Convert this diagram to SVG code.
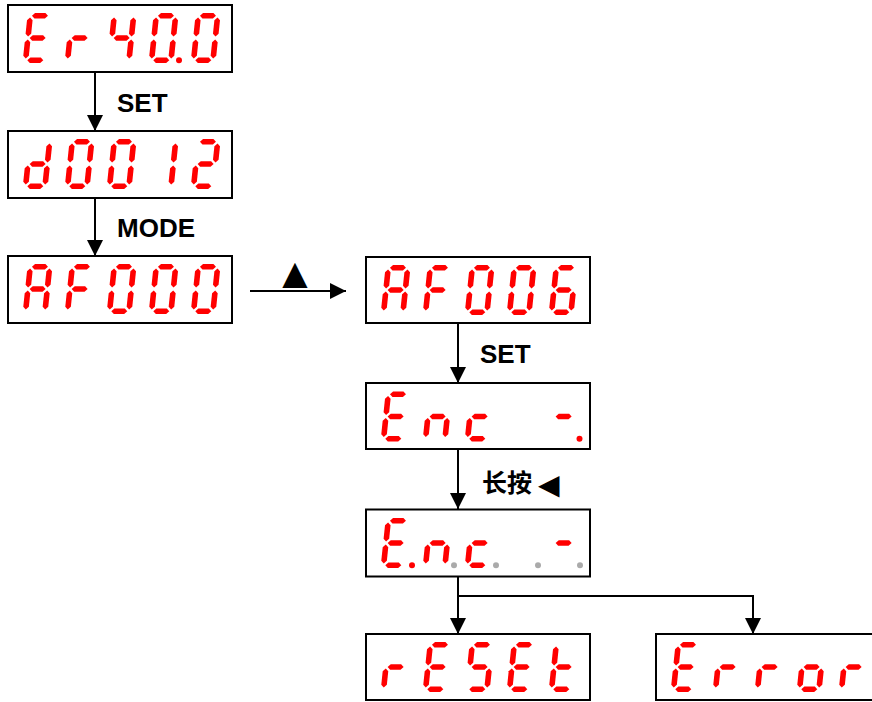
<svg xmlns="http://www.w3.org/2000/svg" width="872" height="702" viewBox="0 0 872 702">
<style>
.box{fill:#fff;stroke:#000;stroke-width:2}
.seg{fill:#ff0000}
.dp{fill:#ff0000}
.dpoff{fill:#aaaaaa}
.conn{fill:none;stroke:#000;stroke-width:2}
.lbl{font-family:"Liberation Sans",Arial,sans-serif;font-weight:bold;font-size:26px;fill:#000}
.cjk{font-family:"Noto Sans CJK SC","Noto Sans CJK JP",sans-serif;font-weight:bold;font-size:25px;fill:#000}
.sym{font-family:"DejaVu Sans",sans-serif;font-weight:normal;fill:#000}
</style>
<defs>
<marker id="ah" viewBox="0 0 16 16" refX="16" refY="8" markerWidth="16" markerHeight="16" markerUnits="userSpaceOnUse" orient="auto"><path d="M0,0 L16,8 L0,16 z" fill="#000"/></marker>
<polygon id="sa" class="seg" points="4.5,-47.2 7.3,-50 17.7,-50 20.5,-47.2 17.7,-44.4 7.3,-44.4"/>
<polygon id="sg" class="seg" points="4.5,-25 7.3,-27.8 17.7,-27.8 20.5,-25 17.7,-22.2 7.3,-22.2"/>
<polygon id="sd" class="seg" points="4.5,-2.8 7.3,-5.6 17.7,-5.6 20.5,-2.8 17.7,0 7.3,0"/>
<polygon id="sf" class="seg" points="2.8,-45.5 5.6,-42.7 5.6,-29.3 2.8,-26.5 0,-29.3 0,-42.7"/>
<polygon id="se" class="seg" points="2.8,-23.5 5.6,-20.7 5.6,-7.3 2.8,-4.5 0,-7.3 0,-20.7"/>
<polygon id="sb" class="seg" points="22.2,-45.5 25,-42.7 25,-29.3 22.2,-26.5 19.4,-29.3 19.4,-42.7"/>
<polygon id="sc" class="seg" points="22.2,-23.5 25,-20.7 25,-7.3 22.2,-4.5 19.4,-7.3 19.4,-20.7"/>
<g id="d0" transform="skewX(-6)"><use href="#sa"/><use href="#sb"/><use href="#sc"/><use href="#sd"/><use href="#se"/><use href="#sf"/></g>
<g id="d1" transform="skewX(-6)"><use href="#sb"/><use href="#sc"/></g>
<g id="d2" transform="skewX(-6)"><use href="#sa"/><use href="#sb"/><use href="#sg"/><use href="#se"/><use href="#sd"/></g>
<g id="d4" transform="skewX(-6)"><use href="#sf"/><use href="#sg"/><use href="#sb"/><use href="#sc"/></g>
<g id="d6" transform="skewX(-6)"><use href="#sa"/><use href="#sf"/><use href="#sg"/><use href="#se"/><use href="#sd"/><use href="#sc"/></g>
<g id="dA" transform="skewX(-6)"><use href="#sa"/><use href="#sb"/><use href="#sc"/><use href="#se"/><use href="#sf"/><use href="#sg"/></g>
<g id="dF" transform="skewX(-6)"><use href="#sa"/><use href="#se"/><use href="#sf"/><use href="#sg"/></g>
<g id="dE" transform="skewX(-6)"><use href="#sa"/><use href="#sd"/><use href="#se"/><use href="#sf"/><use href="#sg"/></g>
<g id="dr" transform="skewX(-6)"><use href="#se"/><use href="#sg"/></g>
<g id="dd" transform="skewX(-6)"><use href="#sb"/><use href="#sc"/><use href="#sd"/><use href="#se"/><use href="#sg"/></g>
<g id="dn" transform="skewX(-6)"><use href="#sc"/><use href="#se"/><use href="#sg"/></g>
<g id="dc" transform="skewX(-6)"><use href="#sd"/><use href="#se"/><use href="#sg"/></g>
<g id="dm" transform="skewX(-6)"><use href="#sg"/></g>
<g id="dS" transform="skewX(-6)"><use href="#sa"/><use href="#sf"/><use href="#sg"/><use href="#sc"/><use href="#sd"/></g>
<g id="dt" transform="skewX(-6)"><use href="#sd"/><use href="#se"/><use href="#sf"/><use href="#sg"/></g>
<g id="do" transform="skewX(-6)"><use href="#sc"/><use href="#sd"/><use href="#se"/><use href="#sg"/></g>
</defs>

<g id="node-er400">
<rect class="box" x="8" y="5" width="224" height="67"/>
<use href="#dE" x="22.5" y="63"/><use href="#dr" x="64.5" y="63"/><use href="#d4" x="106.5" y="63"/><use href="#d0" x="148.5" y="63"/><use href="#d0" x="190.5" y="63"/>
<circle class="dp" cx="179" cy="60.2" r="3"/>
</g>

<g id="node-d0012">
<rect class="box" x="8" y="131" width="224" height="67"/>
<use href="#dd" x="22.5" y="189"/><use href="#d0" x="64.5" y="189"/><use href="#d0" x="106.5" y="189"/><use href="#d1" x="148.5" y="189"/><use href="#d2" x="190.5" y="189"/>
</g>

<g id="node-af000">
<rect class="box" x="8" y="256" width="224" height="67"/>
<use href="#dA" x="22.5" y="314"/><use href="#dF" x="64.5" y="314"/><use href="#d0" x="106.5" y="314"/><use href="#d0" x="148.5" y="314"/><use href="#d0" x="190.5" y="314"/>
</g>

<g id="node-af006">
<rect class="box" x="366" y="257" width="224" height="66"/>
<use href="#dA" x="380.5" y="315"/><use href="#dF" x="422.5" y="315"/><use href="#d0" x="464.5" y="315"/><use href="#d0" x="506.5" y="315"/><use href="#d6" x="548.5" y="315"/>
</g>

<g id="node-enc1">
<rect class="box" x="366" y="383" width="224" height="66"/>
<use href="#dE" x="380.5" y="441.5"/><use href="#dn" x="422.5" y="441.5"/><use href="#dc" x="464.5" y="441.5"/><use href="#dm" x="548.5" y="441.5"/>
<circle class="dp" cx="579.5" cy="438.7" r="3"/>
</g>

<g id="node-enc2">
<rect class="box" x="366" y="509.5" width="224" height="67"/>
<use href="#dE" x="380.5" y="568"/><use href="#dn" x="422.5" y="568"/><use href="#dc" x="464.5" y="568"/><use href="#dm" x="548.5" y="568"/>
<circle class="dp" cx="412" cy="565.2" r="3"/>
<circle class="dpoff" cx="454" cy="565.2" r="3"/>
<circle class="dpoff" cx="496" cy="565.2" r="3"/>
<circle class="dpoff" cx="538" cy="565.2" r="3"/>
<circle class="dpoff" cx="580" cy="565.2" r="3"/>
</g>

<g id="node-reset">
<rect class="box" x="366" y="634" width="224" height="66"/>
<use href="#dr" x="380.5" y="692"/><use href="#dE" x="422.5" y="692"/><use href="#dS" x="464.5" y="692"/><use href="#dE" x="506.5" y="692"/><use href="#dt" x="548.5" y="692"/>
</g>

<g id="node-error">
<rect class="box" x="656" y="634" width="224" height="66"/>
<use href="#dE" x="670.5" y="692"/><use href="#dr" x="712.5" y="692"/><use href="#dr" x="754.5" y="692"/><use href="#do" x="796.5" y="692"/><use href="#dr" x="838.5" y="692"/>
</g>

<g id="connectors">
<line class="conn" x1="95" y1="72" x2="95" y2="131" marker-end="url(#ah)"/>
<line class="conn" x1="95" y1="198" x2="95" y2="256" marker-end="url(#ah)"/>
<line class="conn" x1="250" y1="291" x2="346" y2="291" marker-end="url(#ah)"/>
<line class="conn" x1="458" y1="323" x2="458" y2="383" marker-end="url(#ah)"/>
<line class="conn" x1="458" y1="449" x2="458" y2="509" marker-end="url(#ah)"/>
<line class="conn" x1="458" y1="577" x2="458" y2="634" marker-end="url(#ah)"/>
<polyline class="conn" points="458,596 753,596 753,634" marker-end="url(#ah)"/>
</g>

<g id="labels">
<text class="lbl" x="117" y="112">SET</text>
<text class="lbl" x="117" y="237">MODE</text>
<text class="sym" x="295" y="284" font-size="33" text-anchor="middle">▲</text>
<text class="lbl" x="480" y="363">SET</text>
<text class="cjk" x="482" y="492">长按<tspan class="sym" x="538" y="494" font-size="28">◀</tspan></text>
</g>
</svg>
